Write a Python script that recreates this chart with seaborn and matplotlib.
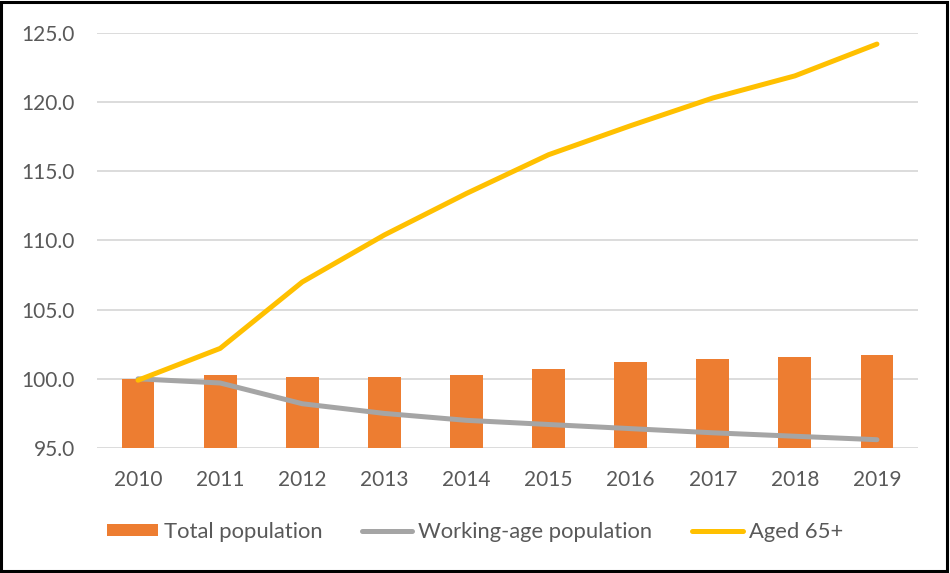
import matplotlib
matplotlib.use("Agg")
import matplotlib.pyplot as plt
from matplotlib.patches import Rectangle
import seaborn as sns
import pandas as pd

# Population indices (2010 = 100)
years = [2010, 2011, 2012, 2013, 2014, 2015, 2016, 2017, 2018, 2019]
total_population = [100.0, 100.3, 100.1, 100.1, 100.3, 100.7, 101.2, 101.45, 101.55, 101.7]
working_age = [100.0, 99.7, 98.2, 97.5, 97.0, 96.7, 96.4, 96.1, 95.85, 95.6]
aged_65_plus = [99.9, 102.2, 107.0, 110.4, 113.4, 116.2, 118.3, 120.3, 121.9, 124.2]
y_ticks = [95, 100, 105, 110, 115, 120, 125]

df = pd.DataFrame({
    "year": years,
    "total": total_population,
    "working": working_age,
    "aged": aged_65_plus,
})

sns.set_theme(style="white")
plt.rcParams["font.family"] = ["Lato", "DejaVu Sans"]

ORANGE = "#ED7D31"
GREY = "#A5A5A5"
GOLD = "#FFC000"
TEXT = "#595959"

fig = plt.figure(figsize=(9.5, 5.73), dpi=100)
ax = fig.add_axes([97 / 950, 1 - 448 / 573, (918 - 97) / 950, (448 - 33) / 573])

sns.barplot(data=df, x="year", y="total", native_scale=True, width=0.4,
            color=ORANGE, saturation=1, linewidth=0, label="Total population", ax=ax)
sns.lineplot(data=df, x="year", y="working", color=GREY, linewidth=3.6,
             solid_capstyle="round", label="Working-age population", ax=ax)
sns.lineplot(data=df, x="year", y="aged", color=GOLD, linewidth=3.6,
             solid_capstyle="round", label="Aged 65+", ax=ax)

ax.set_xlim(years[0] - 0.5, years[-1] + 0.5)
ax.set_ylim(y_ticks[0], y_ticks[-1])
ax.set_xticks(years)
ax.set_xticklabels([str(y) for y in years])
ax.set_yticks(y_ticks)
ax.set_yticklabels([f"{v:.1f}" for v in y_ticks])
ax.set_xlabel("")
ax.set_ylabel("")

ax.grid(axis="y", color="#D9D9D9", linewidth=1.3)
ax.set_axisbelow(True)
for s in ax.spines.values():
    s.set_visible(False)
ax.tick_params(axis="both", length=0, labelsize=15, labelcolor=TEXT)
ax.tick_params(axis="x", pad=16)
ax.tick_params(axis="y", pad=16)

handles, labels = ax.get_legend_handles_labels()
order = ["Total population", "Working-age population", "Aged 65+"]
pairs = dict(zip(labels, handles))
if ax.get_legend() is not None:
    ax.get_legend().remove()
fig.legend([pairs[k] for k in order], order, loc="center",
           bbox_to_anchor=(0.5, 1 - 532 / 573),
           ncol=3, frameon=False, fontsize=15.8, labelcolor=TEXT,
           handlelength=2.3, handleheight=0.5, handletextpad=0.28,
           columnspacing=1.8)

# chart frame
fig.patches.append(Rectangle((0.0015, 0.003), 0.995, 0.994, transform=fig.transFigure,
                             fill=False, edgecolor="black", linewidth=2.2))

fig.savefig("out.png", dpi=100)
